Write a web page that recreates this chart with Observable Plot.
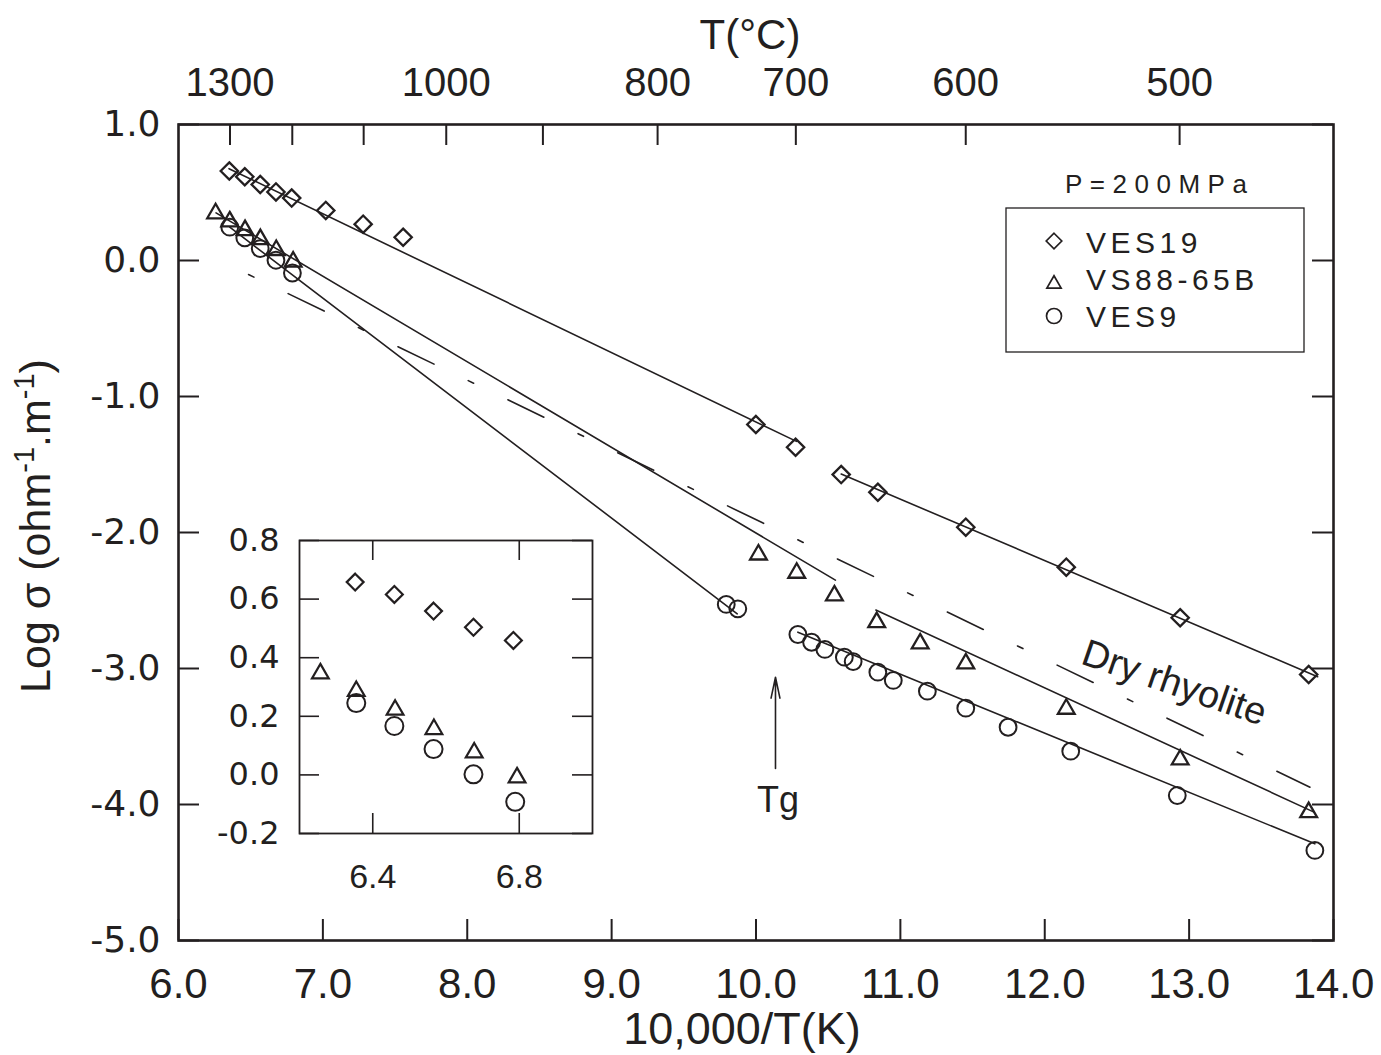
<!DOCTYPE html>
<html><head><meta charset="utf-8">
<script src="https://cdn.jsdelivr.net/npm/d3@7"></script>
<script src="https://cdn.jsdelivr.net/npm/@observablehq/plot@0.6"></script>
<style>
body{margin:0;background:#fff;}
#wrap{position:relative;width:1381px;height:1055px;overflow:hidden;background:#fff;}
#wrap svg{position:absolute;}
</style></head><body><div id="wrap"></div>
<script>
// ---------- data ----------
const xTicks = [6, 7, 8, 9, 10, 11, 12, 13, 14];
const yTicks = [-5, -4, -3, -2, -1, 0, 1];
const topTicksC = [1300, 1200, 1100, 1000, 900, 800, 700, 600, 500];
const topLabelsC = [1300, 1000, 800, 700, 600, 500];
const insetXTicks = [6.4, 6.8];
const insetYTicks = [-0.2, 0, 0.2, 0.4, 0.6, 0.8];

const ves19 = [[6.352,0.658],[6.459,0.616],[6.566,0.559],[6.675,0.504],[6.784,0.459],
  [7.020,0.368],[7.279,0.267],[7.556,0.171],[9.999,-1.206],[10.274,-1.373],
  [10.590,-1.574],[10.844,-1.704],[11.453,-1.961],[12.149,-2.255],[12.938,-2.627],[13.828,-3.044]];
const vs88 = [[6.257,0.346],[6.355,0.286],[6.461,0.222],[6.567,0.156],[6.677,0.076],[6.794,-0.009],
  [10.017,-2.163],[10.282,-2.297],[10.543,-2.464],[10.836,-2.660],[11.137,-2.817],[11.453,-2.964],
  [12.149,-3.297],[12.938,-3.670],[13.828,-4.057]];
const ves9 = [[6.355,0.245],[6.459,0.167],[6.566,0.088],[6.675,0.002],[6.789,-0.092],
  [9.794,-2.529],[9.874,-2.561],[10.290,-2.750],[10.385,-2.807],[10.477,-2.860],[10.612,-2.917],
  [10.673,-2.949],[10.844,-3.027],[10.951,-3.088],[11.187,-3.167],[11.453,-3.292],[11.746,-3.432],
  [12.180,-3.608],[12.918,-3.934],[13.871,-4.338]];

const fitVES19 = [[[6.35,0.675],[10.28,-1.33]], [[10.59,-1.57],[13.89,-3.06]]];
const fitVS88 = [[[6.26,0.35],[10.55,-2.35]], [[10.83,-2.57],[13.865,-4.056]]];
const fitVES9 = [[[6.355,0.245],[9.87,-2.598]], [[10.29,-2.733],[13.871,-4.289]]];
const dryRhyolite = [[6.485,-0.103],[13.837,-3.873]];

const tgArrow = [{x: 10.135, y1: -3.735, y2: -3.064}];
const tgLabel = [{x: 10.152, y: -3.974, text: "Tg"}];
const rhyLabel = [{x: 12.897, y: -3.107, text: "Dry rhyolite"}];

const legendItems = [
  {symbol: "diamond2", label: "VES19"},
  {symbol: "triangle2", label: "VS88-65B"},
  {symbol: "circle", label: "VES9"}
];
const pressureLabel = "P=200MPa";

// ---------- layout ----------
const ink = "#231f20";
const W = 1381, H = 1055;
const mL = 178, mR = 48, mT = 124, mB = 115;
const kx = (W - mL - mR) / (xTicks[xTicks.length-1] - xTicks[0]);
const ky = (H - mT - mB) / (yTicks[yTicks.length-1] - yTicks[0]);
const tk = 21;
const sans = "Liberation Sans, Arial, Helvetica, sans-serif";
const dejavu = "DejaVu Sans, Verdana, sans-serif";
const fx = d => d[0], fy = d => d[1];
const c2x = c => 10000 / (c + 273.15);

const lineOpts = {x: fx, y: fy, stroke: ink, strokeWidth: 1.6};

const main = Plot.plot({
  width: W, height: H,
  marginLeft: mL, marginRight: mR, marginTop: mT, marginBottom: mB,
  x: {domain: [6, 14]},
  y: {domain: [-5, 1]},
  style: {background: "transparent", fontFamily: sans, color: ink},
  marks: [
    Plot.ruleX(xTicks, {x: d => d, y1: -5, y2: -5 + tk / ky, stroke: ink, strokeWidth: 2}),
    Plot.ruleX(topTicksC, {x: c2x, y1: 1, y2: 1 - tk / ky, stroke: ink, strokeWidth: 2}),
    Plot.ruleY(yTicks, {y: d => d, x1: 6, x2: 6 + tk / kx, stroke: ink, strokeWidth: 2}),
    Plot.ruleY(yTicks, {y: d => d, x1: 14, x2: 14 - tk / kx, stroke: ink, strokeWidth: 2}),
    Plot.frame({stroke: ink, strokeWidth: 2.6}),
    Plot.axisX(xTicks, {tickSize: 0, tickPadding: 28, tickFormat: d => d.toFixed(1), fontSize: 42, fontFamily: sans, label: null}),
    Plot.axisY(yTicks, {tickSize: 0, tickPadding: 18, tickFormat: d => d.toFixed(1), fontSize: 36, fontFamily: dejavu, label: null}),
    Plot.text(topLabelsC, {x: c2x, frameAnchor: "top", dy: -41, lineAnchor: "middle", text: d => String(d), fontSize: 40, fill: ink}),
    ...fitVES19.map(s => Plot.line(s, lineOpts)),
    ...fitVS88.map(s => Plot.line(s, lineOpts)),
    ...fitVES9.map(s => Plot.line(s, lineOpts)),
    Plot.line(dryRhyolite, {...lineOpts, strokeDasharray: "6,38,40,38"}),
    Plot.dot(ves19, {x: fx, y: fy, symbol: "diamond2", r: 7.8, stroke: ink, strokeWidth: 2.3, fill: "none"}),
    Plot.dot(vs88, {x: fx, y: fy, symbol: "triangle2", r: 8, stroke: ink, strokeWidth: 2.3, fill: "none"}),
    Plot.dot(ves9, {x: fx, y: fy, symbol: "circle", r: 8.4, stroke: ink, strokeWidth: 2, fill: "none"}),
    Plot.arrow(tgArrow, {x1: "x", x2: "x", y1: "y1", y2: "y2", stroke: ink, strokeWidth: 1.6, headLength: 20, headAngle: 24}),
    Plot.text(tgLabel, {x: "x", y: "y", text: "text", fontSize: 36, fill: ink, lineAnchor: "middle"}),
    Plot.text(rhyLabel, {x: "x", y: "y", text: "text", fontSize: 38, fill: ink, rotate: 19, lineAnchor: "middle"})
  ]
});
main.style.left = "0px"; main.style.top = "0px";
document.getElementById("wrap").appendChild(main);

// ---------- inset ----------
const iW = 420, iH = 380, imL = 99, imR = 28, imT = 20, imB = 67;
const ikx = (iW - imL - imR) / (7.0 - 6.2);
const iky = (iH - imT - imB) / (0.8 - (-0.2));
const itk = 20;
const inset = Plot.plot({
  width: iW, height: iH,
  marginLeft: imL, marginRight: imR, marginTop: imT, marginBottom: imB,
  x: {domain: [6.2, 7.0]},
  y: {domain: [-0.2, 0.8]},
  style: {background: "transparent", fontFamily: sans, color: ink},
  marks: [
    Plot.ruleX(insetXTicks, {x: d => d, y1: -0.2, y2: -0.2 + itk / iky, stroke: ink, strokeWidth: 1.6}),
    Plot.ruleX(insetXTicks, {x: d => d, y1: 0.8, y2: 0.8 - itk / iky, stroke: ink, strokeWidth: 1.6}),
    Plot.ruleY(insetYTicks, {y: d => d, x1: 6.2, x2: 6.2 + itk / ikx, stroke: ink, strokeWidth: 1.6}),
    Plot.ruleY(insetYTicks, {y: d => d, x1: 7.0, x2: 7.0 - itk / ikx, stroke: ink, strokeWidth: 1.6}),
    Plot.frame({stroke: ink, strokeWidth: 1.8}),
    Plot.axisX(insetXTicks, {tickSize: 0, tickPadding: 30, tickFormat: d => d.toFixed(1), fontSize: 34, fontFamily: sans, label: null}),
    Plot.axisY(insetYTicks, {tickSize: 0, tickPadding: 20, tickFormat: d => d.toFixed(1), fontSize: 32, fontFamily: dejavu, label: null}),
    Plot.dot(ves19.filter(d => d[0] < 7), {x: fx, y: fy, symbol: "diamond2", r: 7.6, stroke: ink, strokeWidth: 2.2, fill: "none"}),
    Plot.dot(vs88.filter(d => d[0] < 7), {x: fx, y: fy, symbol: "triangle2", r: 8, stroke: ink, strokeWidth: 2.2, fill: "none"}),
    Plot.dot(ves9.filter(d => d[0] < 7), {x: fx, y: fy, symbol: "circle", r: 9, stroke: ink, strokeWidth: 2, fill: "none"})
  ]
});
inset.style.left = "200px"; inset.style.top = "520px";
document.getElementById("wrap").appendChild(inset);

// ---------- overlay text & legend ----------
const ov = d3.select("#wrap").append("svg")
  .attr("width", W).attr("height", H)
  .style("left", "0px").style("top", "0px").style("pointer-events", "none")
  .style("font-family", sans).attr("fill", ink);

ov.append("text").attr("x", 750).attr("y", 49).attr("text-anchor", "middle")
  .style("font-size", "42px").text("T(°C)");
ov.append("text").attr("x", 742).attr("y", 1044).attr("text-anchor", "middle")
  .style("font-size", "45px").text("10,000/T(K)");

const yt = ov.append("text").attr("transform", "translate(50,526) rotate(-90)")
  .attr("text-anchor", "middle").style("font-size", "43px");
yt.append("tspan").text("Log σ (ohm");
yt.append("tspan").attr("dy", -16).style("font-size", "29px").text("-1");
yt.append("tspan").attr("dy", 16).text(".m");
yt.append("tspan").attr("dy", -16).style("font-size", "29px").text("-1");
yt.append("tspan").attr("dy", 16).text(")");

ov.append("text").attr("x", 1065).attr("y", 193).style("font-size", "26px")
  .style("letter-spacing", "7.5px").text(pressureLabel);
ov.append("rect").attr("x", 1006).attr("y", 208).attr("width", 298).attr("height", 144)
  .attr("fill", "none").attr("stroke", ink).attr("stroke-width", 1.3);

const symMap = {diamond2: d3.symbolDiamond2, triangle2: d3.symbolTriangle2, circle: d3.symbolCircle};
const rowY = [241, 284, 316];
const textY = [253, 290, 327];
const legR = [7, 6.8, 7.5];
legendItems.forEach((it, i) => {
  ov.append("path")
    .attr("transform", `translate(1054,${rowY[i]})`)
    .attr("d", d3.symbol(symMap[it.symbol], Math.PI * legR[i] * legR[i])())
    .attr("fill", "none").attr("stroke", ink).attr("stroke-width", 1.7);
  ov.append("text").attr("x", 1086).attr("y", textY[i]).style("font-size", "30px")
    .style("letter-spacing", "4.5px").text(it.label);
});
</script></body></html>
